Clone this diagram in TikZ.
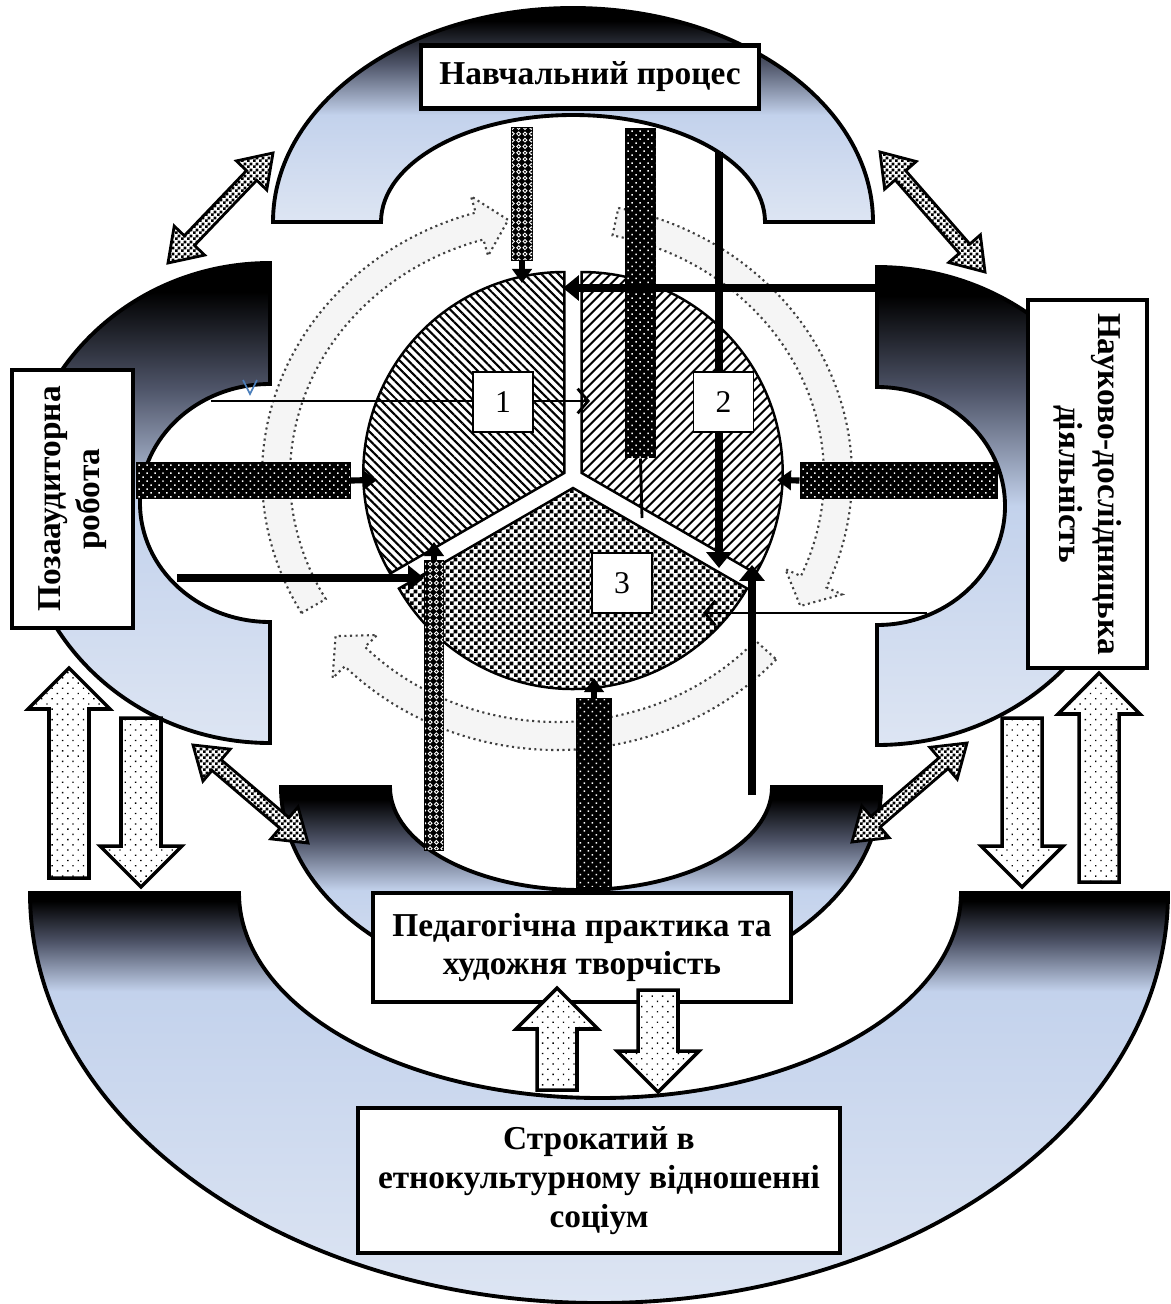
\documentclass[tikz,border=0pt]{standalone}
\usepackage{fontspec}
\setmainfont{Liberation Serif}
\usetikzlibrary{arrows.meta,calc,patterns,patterns.meta}

\definecolor{archblue}{HTML}{C3D2EC}
\definecolor{archlight}{HTML}{DDE5F3}
\definecolor{archslate}{HTML}{4E5468}
\definecolor{markblue}{HTML}{4A7EBB}
\pgfdeclareverticalshading{archshade}{100bp}{color(0bp)=(archlight); color(25bp)=(archlight); color(50bp)=(archblue); color(62bp)=(archslate); color(72bp)=(black); color(100bp)=(black)}
\pgfdeclareverticalshading{wideshade}{100bp}{color(0bp)=(archlight); color(25bp)=(archlight); color(63bp)=(archblue); color(69bp)=(archslate); color(74bp)=(black); color(100bp)=(black)}

\tikzdeclarepattern{name=fdots, type=uncolored,
  bottom left={(-1pt,-1pt)}, top right={(1pt,1pt)},
  tile size={(3.2pt,3.2pt)}, tile transformation={rotate=45},
  code={\pgfpathcircle{\pgfpointorigin}{0.6pt}\pgfusepath{fill}}}
\tikzdeclarepattern{name=sdots, type=uncolored,
  bottom left={(-1pt,-1pt)}, top right={(1pt,1pt)},
  tile size={(4.2pt,4.2pt)}, tile transformation={rotate=45},
  code={\pgfpathcircle{\pgfpointorigin}{0.55pt}\pgfusepath{fill}}}
\tikzdeclarepattern{name=rings, type=uncolored,
  bottom left={(-2pt,-2pt)}, top right={(2pt,2pt)},
  tile size={(3.6pt,3.6pt)},
  code={\pgfsetlinewidth{0.5pt}\pgfpathcircle{\pgfpointorigin}{1.1pt}\pgfusepath{stroke}}}
\tikzdeclarepattern{name=finecheck, type=uncolored,
  bottom left={(0pt,0pt)}, top right={(4.4pt,4.4pt)},
  tile size={(4.4pt,4.4pt)},
  code={\pgfpathrectangle{\pgfpointorigin}{\pgfqpoint{2.2pt}{2.2pt}}%
    \pgfpathrectangle{\pgfqpoint{2.2pt}{2.2pt}}{\pgfqpoint{2.2pt}{2.2pt}}\pgfusepath{fill}}}
\tikzdeclarepattern{name=smallcheck, type=uncolored,
  bottom left={(0pt,0pt)}, top right={(3.2pt,3.2pt)},
  tile size={(3.2pt,3.2pt)},
  code={\pgfpathrectangle{\pgfpointorigin}{\pgfqpoint{1.6pt}{1.6pt}}%
    \pgfpathrectangle{\pgfqpoint{1.6pt}{1.6pt}}{\pgfqpoint{1.6pt}{1.6pt}}\pgfusepath{fill}}}

% dotted ring arrow on the ellipse round (cyc): start angle, tip angle
\newcommand\cyclearrow[2]{%
  \pgfmathsetmacro\headbase{#2-6}%
  \draw[cycarrow] ($(cyc)+(#1:295 and 274)$)
    arc[start angle=#1, end angle=\headbase, x radius=295, y radius=274]
    -- ($(cyc)+(\headbase:312 and 291)$) -- ($(cyc)+(#2:281 and 260)$)
    -- ($(cyc)+(\headbase:250 and 229)$) -- ($(cyc)+(\headbase:267 and 246)$)
    arc[start angle=\headbase, end angle=#1, x radius=267, y radius=246] -- cycle;}

% wide arrow from base to tip
\newcommand\blockarrow[2]{%
  \coordinate (ba) at (#1); \coordinate (bt) at (#2);
  \coordinate (bh) at ($(bt)!0.82cm!(ba)$);
  \draw[blockarrow] ($(ba)!0.4cm!90:(bt)$) -- ($(bh)!0.4cm!90:(bt)$) -- ($(bh)!0.82cm!90:(bt)$)
    -- (bt) -- ($(bh)!0.82cm!-90:(bt)$) -- ($(bh)!0.4cm!-90:(bt)$) -- ($(ba)!0.4cm!-90:(bt)$) -- cycle;}

% two-headed arrow between two areas
\newcommand\linkarrow[2]{%
  \coordinate (la) at ($(#1)!0.62cm!(#2)$);
  \coordinate (lb) at ($(#2)!0.62cm!(#1)$);
  \draw[linkarrow] (#1) -- ($(la)!0.42cm!90:(#2)$) -- ($(la)!0.14cm!90:(#2)$)
    -- ($(lb)!0.14cm!-90:(#1)$) -- ($(lb)!0.42cm!-90:(#1)$) -- (#2)
    -- ($(lb)!0.42cm!90:(#1)$) -- ($(lb)!0.14cm!90:(#1)$)
    -- ($(la)!0.14cm!-90:(#2)$) -- ($(la)!0.42cm!-90:(#2)$) -- cycle;}

\begin{document}
\begin{tikzpicture}[x=0.02cm, y=-0.02cm,
    arch/.style={shade, shading=archshade, draw=black, line width=2.2pt},
    areabox/.style={draw, line width=2.4pt, fill=white, align=center, inner sep=0pt, font=\fontsize{19}{22}\selectfont\bfseries},
    numbox/.style={draw, line width=0.8pt, fill=white, minimum size=1.2cm, inner sep=0pt, font=\fontsize{18}{20}\selectfont},
    sector/.style={draw=black, line width=1.4pt},
    dotbar/.style={draw=black, line width=0.6pt, inner sep=0pt, fill=black, postaction={pattern=fdots, pattern color=white}},
    chainbar/.style={draw=black, line width=0.6pt, inner sep=0pt, fill=black, postaction={pattern=rings, pattern color=white}},
    heavylink/.style={line width=5pt, -{Triangle[length=9pt,width=14pt]}},
    lightlink/.style={line width=1.6pt, -{Straight Barb[length=6pt,width=14pt]}},
    barhead/.style={line width=3.5pt, -{Triangle[length=8pt,width=11pt]}},
    blockarrow/.style={draw=black, line width=2pt, fill=white, postaction={pattern=sdots, pattern color=black}},
    linkarrow/.style={draw=black, line width=1.6pt, fill=white, postaction={pattern=smallcheck}},
    cycarrow/.style={draw=black!75, line width=1.2pt, dotted, fill=black!4}]

    \fill[white] (0,0) rectangle (1170,1304);
    \useasboundingbox (0,0) rectangle (1170,1304);

    % the five areas
    \draw[arch, shading=wideshade] (30,893) arc[start angle=180, end angle=0, x radius=569, y radius=410]
        -- (961,893) arc[start angle=0, end angle=180, x radius=361, y radius=205] -- cycle;
    \draw[arch] (281,787) arc[start angle=180, end angle=0, x radius=300, y radius=207]
        -- (772,787) arc[start angle=0, end angle=180, x radius=191, y radius=103] -- cycle;
    \draw[arch] (273,222) arc[start angle=180, end angle=360, x radius=300, y radius=214]
        -- (765,222) arc[start angle=0, end angle=-180, x radius=192, y radius=107] -- cycle;
    \draw[arch] (270,263) arc[start angle=270, end angle=90, x radius=250, y radius=240]
        -- (270,622) arc[start angle=90, end angle=270, x radius=130, y radius=119] -- cycle;
    \draw[arch] (877,267) arc[start angle=270, end angle=450, x radius=255, y radius=239]
        -- (877,625) arc[start angle=90, end angle=-90, x radius=128, y radius=119] -- cycle;

    % ring of dotted arrows
    \coordinate (cyc) at (557,476);
    \cyclearrow{150}{260}
    \cyclearrow{282}{390}
    \cyclearrow{42}{142}

    % the three parts of the circle
    \coordinate (c) at (573,478);
    \draw[sector, pattern={Lines[angle=-45,distance=3.4pt,line width=1.2pt]}]
        ($(c)+(-8.7,-5)$) -- +(150:201) arc[start angle=150, end angle=270, radius=201] -- cycle;
    \draw[sector, pattern={Lines[angle=45,distance=4pt,line width=1.2pt]}]
        ($(c)+(8.7,-5)$) -- +(270:201) arc[start angle=270, end angle=390, radius=201] -- cycle;
    \draw[sector, pattern=finecheck]
        ($(c)+(0,10)$) -- +(30:201) arc[start angle=30, end angle=150, radius=201] -- cycle;

    % bars
    \node[chainbar, minimum width=0.4cm, minimum height=2.64cm] (b1) at (522,194) {};
    \node[dotbar, minimum width=0.58cm, minimum height=6.6cm] (b2) at (640.5,293) {};
    \node[dotbar, minimum width=4.26cm, minimum height=0.7cm] (b3) at (243.5,480.5) {};
    \node[dotbar, minimum width=3.94cm, minimum height=0.7cm] (b4) at (898.5,480.5) {};
    \node[chainbar, minimum width=0.36cm, minimum height=5.8cm] (b5) at (434,705) {};
    \node[dotbar, minimum width=0.68cm, minimum height=3.76cm] (b6) at (594,793) {};

    % ends of the connectors
    \coordinate (t1) at (522,283);
    \coordinate (t2) at (563,288);
    \coordinate (t3) at (590,401);
    \coordinate (t4) at (377,480);
    \coordinate (t5) at (777,480);
    \coordinate (t6) at (424,578);
    \coordinate (t7) at (434,542);
    \coordinate (t8) at (719,568);
    \coordinate (t9) at (752,565);
    \coordinate (t10) at (703,613);
    \coordinate (t11) at (594,678);
    \coordinate (s2) at (885,288);
    \coordinate (s3) at (211,401);
    \coordinate (s6) at (177,578);
    \coordinate (s8) at (719,152);
    \coordinate (s9) at (752,795);
    \coordinate (s10) at (927,613);
    \coordinate (b2end) at (642,518);

    \draw[barhead] (b1.south) -- (t1);
    \draw[barhead] (b3.east) -- (t4);
    \draw[barhead] (b4.west) -- (t5);
    \draw[barhead] (b5.north) -- (t7);
    \draw[barhead] (b6.north) -- (t11);
    \draw[line width=1.6pt] (b2.south) -- (b2end);
    \draw[heavylink] (s2) -- (t2);
    \draw[heavylink] (s6) -- (t6);
    \draw[heavylink] (s8) -- (t8);
    \draw[heavylink] (s9) -- (t9);
    \draw[lightlink] (s3) -- (t3);
    \draw[lightlink] (s10) -- (t10);
    \draw[markblue, line width=0.9pt] (243,380) -- (250,394) -- (257,380);

    \node[numbox] (n1) at (503,402) {1};
    \node[numbox] (n2) at (723.5,402) {2};
    \node[numbox] (n3) at (622,583) {3};

    \node[areabox, minimum width=6.76cm, minimum height=1.26cm] (nav) at (590,77) {Навчальний процес};
    \node[areabox, rotate=90, minimum width=5.16cm, minimum height=2.42cm] (poza) at (72.5,499) {Позааудиторна\\робота};
    \node[areabox, rotate=-90, minimum width=7.36cm, minimum height=2.38cm] (nauk) at (1087.5,484) {Науково-дослідницька\\діяльність};
    \node[areabox, minimum width=8.36cm, minimum height=2.18cm] (ped) at (582,947.5) {Педагогічна практика та\\художня творчість};
    \node[areabox, minimum width=9.64cm, minimum height=2.9cm] (strok) at (599,1180.5) {Строкатий в\\етнокультурному відношенні\\соціум};

    % wide arrows between the areas
    \blockarrow{69,878}{69,668}
    \blockarrow{141,718}{141,887}
    \blockarrow{1022,718}{1022,887}
    \blockarrow{1099,882}{1099,673}
    \blockarrow{557,1090}{557,988}
    \blockarrow{658,990}{658,1092}
    \linkarrow{273,153}{168,263}
    \linkarrow{880,152}{985,272}
    \linkarrow{193,745}{308,843}
    \linkarrow{852,842}{967,743}
\end{tikzpicture}
\end{document}
